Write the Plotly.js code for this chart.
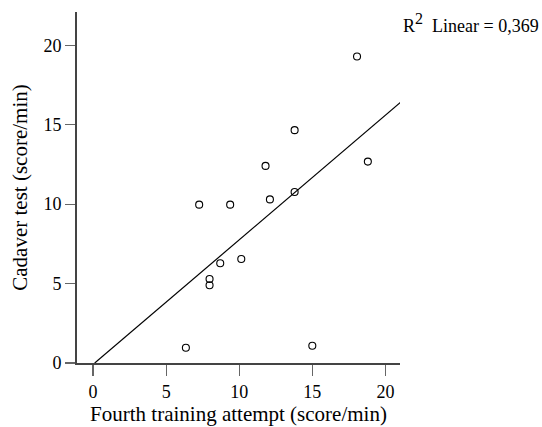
<!DOCTYPE html>
<html>
<head>
<meta charset="utf-8">
<script src="https://cdn.plot.ly/plotly-3.0.1.min.js"></script>
<style>html,body{margin:0;padding:0;background:#fff;}#chart{width:542px;height:427px;}</style>
</head>
<body>
<div id="chart"></div>
<script>
const fourthAttempt = [18.06, 13.79, 11.80, 18.80, 13.79, 12.10, 9.38, 7.26, 10.14, 8.70, 7.97, 7.97, 6.35, 15.00];
const cadaverTest   = [19.30, 14.66, 12.41, 12.68, 10.77, 10.30, 9.97, 9.97, 6.55, 6.28, 5.29, 4.90, 0.96, 1.09];
const xTicks = [0, 5, 10, 15, 20];
const yTicks = [0, 5, 10, 15, 20];
const r2Label = 'R<sup><span style="font-size:16px">2</span></sup>&nbsp;&nbsp;Linear = 0,369';

// least-squares fit
const n = fourthAttempt.length;
const mx = fourthAttempt.reduce((a,b)=>a+b,0)/n;
const my = cadaverTest.reduce((a,b)=>a+b,0)/n;
let sxy=0, sxx=0;
for (let i=0;i<n;i++){ sxy+=(fourthAttempt[i]-mx)*(cadaverTest[i]-my); sxx+=(fourthAttempt[i]-mx)**2; }
const slope = sxy/sxx, icpt = my - slope*mx;
const xStart = -icpt/slope, xEnd = 21.05;

const font = 'Liberation Serif';
const data = [
  {x:[xStart,xEnd], y:[icpt+slope*xStart, icpt+slope*xEnd], mode:'lines', line:{color:'#000',width:1.2}, hoverinfo:'skip'},
  {x:fourthAttempt, y:cadaverTest, mode:'markers', marker:{symbol:'circle-open', size:7, color:'#000', line:{width:1.1, color:'#000'}}}
];
const layout = {
  width:542, height:427, showlegend:false,
  paper_bgcolor:'#fff', plot_bgcolor:'#fff',
  margin:{l:77, r:142, t:12, b:64},
  font:{family:font, color:'#000', size:18},
  xaxis:{range:[-1.1,21.0], tickvals:xTicks, ticks:'outside', ticklen:11, tickwidth:1.3, tickcolor:'#666',
    showline:true, linecolor:'#444', linewidth:2, showgrid:false, zeroline:false, tickfont:{size:18, family:font, color:'#000'},
    title:{text:'Fourth training attempt (score/min)', font:{size:21, family:font, color:'#000'}, standoff:6}},
  yaxis:{range:[0,22.1], tickvals:yTicks, ticks:'outside', ticklen:10, tickwidth:1.3, tickcolor:'#666',
    showline:true, linecolor:'#444', linewidth:2, showgrid:false, zeroline:false, tickfont:{size:18, family:font, color:'#000'},
    title:{text:'Cadaver test (score/min)', font:{size:21, family:font, color:'#000'}, standoff:10}},
  annotations:[{xref:'paper', yref:'paper', x:1.002, y:1.0, xanchor:'left', yanchor:'bottom', text:r2Label, showarrow:false, font:{size:18, family:font, color:'#000'}, yshift:-26}]
};
Plotly.newPlot('chart', data, layout, {displayModeBar:false, staticPlot:true});
</script>
</body>
</html>
